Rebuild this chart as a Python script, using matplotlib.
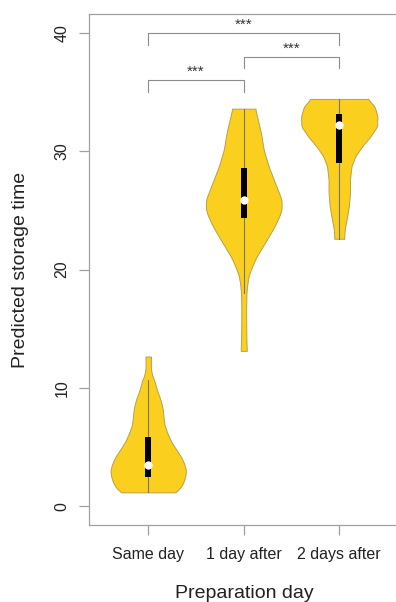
import numpy as np
import matplotlib.pyplot as plt

plt.rcParams['font.family'] = ['Liberation Sans', 'DejaVu Sans']

# groups and summary stats
groups = ['Same day', '1 day after', '2 days after']
q1 = [2.43, 24.36, 29.02]
q3 = [5.81, 28.59, 33.17]
medians = [3.5, 25.9, 32.18]
whisker_lo = [1.16, 18.0, 22.6]
whisker_hi = [10.7, 33.6, 34.42]

# density outlines (y level, relative half-width), bottom to top
same_y = [1.16, 1.5, 2.0, 2.5, 3.0, 3.5, 4.1, 4.7, 5.4, 6.1, 6.8, 7.5, 8.2, 9.0, 9.8, 10.6, 11.1, 11.6, 12.64]
same_w = [0.70, 0.83, 0.92, 0.97, 0.99, 0.95, 0.87, 0.75, 0.61, 0.51, 0.43, 0.40, 0.38, 0.32, 0.23, 0.16, 0.10, 0.07, 0.07]

one_y = [13.12, 14.0, 15.0, 16.5, 18.0, 18.86, 19.6, 20.26, 21.0, 21.7, 22.4, 23.1, 23.8, 24.5, 25.06, 25.9,
         27.32, 28.73, 30.14, 31.55, 32.5, 33.6]
one_w = [0.08, 0.07, 0.065, 0.062, 0.07, 0.096, 0.14, 0.22, 0.32, 0.45, 0.58, 0.71, 0.83, 0.93, 0.99, 0.99,
         0.82, 0.65, 0.52, 0.45, 0.38, 0.30]

two_y = [22.6, 23.37, 24.2, 25.34, 26.47, 27.6, 28.73, 29.58, 30.42, 31.27, 32.1, 32.96, 33.8, 34.42]
two_w = [0.13, 0.14, 0.19, 0.25, 0.28, 0.28, 0.32, 0.42, 0.60, 0.82, 0.99, 1.0, 0.92, 0.75]

outlines = [(same_y, same_w), (one_y, one_w), (two_y, two_w)]

# significance brackets: (left group, right group, height)
brackets = [(0, 2, 40.0), (1, 2, 38.0), (0, 1, 36.0)]
labels = ['***', '***', '***']

fill = '#FACF1E'
edge = '#B9A04A'

fig = plt.figure(figsize=(3.96, 6.02), dpi=100)
ax = fig.add_axes([89 / 396, 1 - 525 / 602, 309.5 / 396, 511 / 602])

pos = np.arange(1, len(groups) + 1)
max_half = 0.40

for i, (ys, ws) in enumerate(outlines):
    yy = np.linspace(ys[0], ys[-1], 300)
    ww = np.interp(yy, ys, ws)
    k = np.ones(9) / 9
    ww_s = np.convolve(np.pad(ww, 4, mode='edge'), k, mode='valid')
    half = ww_s * max_half
    ax.fill_betweenx(yy, pos[i] - half, pos[i] + half, facecolor=fill,
                     edgecolor=edge, linewidth=0.7, zorder=2)
    ax.plot([pos[i], pos[i]], [whisker_lo[i], whisker_hi[i]], color='#777777',
            lw=0.8, zorder=3)
    ax.add_patch(plt.Rectangle((pos[i] - 0.031, q1[i]), 0.062, q3[i] - q1[i],
                               facecolor='black', edgecolor='none', zorder=4))
    ax.plot(pos[i], medians[i], 'o', color='white', markersize=6,
            markeredgewidth=0, zorder=5)

for (a, b, h), lab in zip(brackets, labels):
    ax.plot([pos[a], pos[a], pos[b], pos[b]], [h - 1, h, h, h - 1],
            color='#8c8c8c', lw=0.8, zorder=3)
    ax.text((pos[a] + pos[b]) / 2, h + 0.1, lab, ha='center', va='bottom',
            fontsize=11, color='#333333')

ax.set_xlim(0.38, 3.62)
ax.set_ylim(-1.6, 41.6)
ax.set_yticks([0, 10, 20, 30, 40])
ax.set_xticks(pos)
ax.set_xticklabels(groups)

for side in ['left', 'bottom', 'top', 'right']:
    ax.spines[side].set_color('#a0a0a0')
    ax.spines[side].set_linewidth(0.9)

ax.tick_params(axis='both', colors='#a0a0a0', length=7.2, width=0.9,
               labelsize=11.5, labelcolor='#222222')
ax.tick_params(axis='y', labelrotation=90, pad=7)
ax.tick_params(axis='x', pad=9)
for t in ax.get_yticklabels():
    t.set_va('center')

fig.text(21 / 396, 1 - 270 / 602, 'Predicted storage time', rotation=90,
         ha='center', va='center', fontsize=14, color='#222222')
fig.text(244 / 396, 1 - 593 / 602, 'Preparation day', ha='center',
         va='center', fontsize=14, color='#222222')

fig.savefig('out.png', dpi=100)
